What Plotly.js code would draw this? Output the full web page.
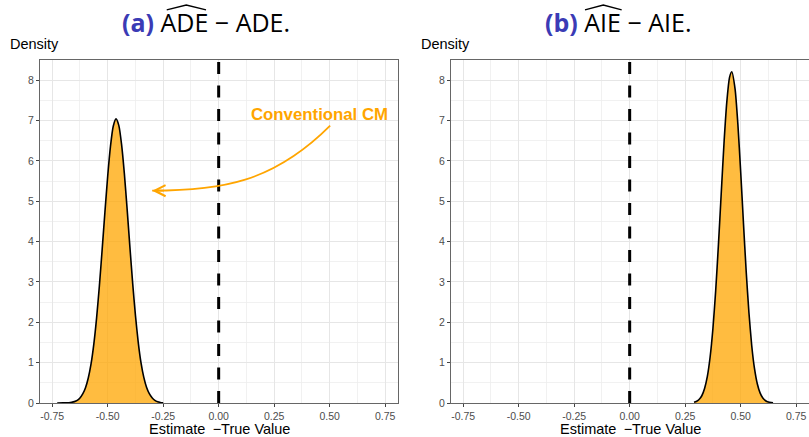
<!DOCTYPE html>
<html>
<head>
<meta charset="utf-8">
<script src="https://cdn.plot.ly/plotly-3.0.1.min.js"></script>
<style>html,body{margin:0;padding:0;background:#fff;}#chart{width:809px;height:437px;}</style>
</head>
<body>
<div id="chart"></div>
<script>
// ---- data ----
const adeX = [-0.7275,-0.70,-0.6875,-0.675,-0.6625,-0.65,-0.6375,-0.625,-0.6125,-0.60,-0.5875,-0.575,-0.5625,-0.55,-0.5375,-0.525,-0.5125,-0.50,-0.4875,-0.475,-0.4625,-0.45,-0.4375,-0.425,-0.4125,-0.40,-0.3875,-0.375,-0.3625,-0.35,-0.3375,-0.325,-0.3125,-0.30,-0.2875,-0.275,-0.2625,-0.25];
const adeY = [0,0.002,0.004,0.008,0.017,0.034,0.066,0.125,0.225,0.38,0.62,0.97,1.46,2.11,2.90,3.80,4.73,5.62,6.36,6.86,7.04,6.88,6.41,5.69,4.81,3.87,2.97,2.17,1.51,1.00,0.64,0.39,0.23,0.13,0.066,0.032,0.014,0.005];
const aieX = [0.29,0.30,0.3125,0.325,0.3375,0.35,0.3625,0.375,0.3875,0.40,0.4125,0.425,0.4375,0.45,0.46,0.475,0.4875,0.50,0.5125,0.525,0.5375,0.55,0.5625,0.575,0.5875,0.60,0.6125,0.625,0.6375,0.646];
const aieY = [0.019,0.039,0.088,0.18,0.36,0.66,1.14,1.84,2.78,3.93,5.19,6.43,7.45,8.07,8.21,7.78,6.91,5.75,4.48,3.26,2.23,1.42,0.85,0.476,0.25,0.122,0.056,0.024,0.01,0.004];
const xTickVals = [-0.75,-0.5,-0.25,0,0.25,0.5,0.75];
const xTickText = ["-0.75","-0.50","-0.25","0.00","0.25","0.50","0.75"];
const yTickVals = [0,1,2,3,4,5,6,7,8];
const trueValue = 0;
const panelTitles = ['<span style="color:#3b3bb5"><b>(a)</b></span> ADE − ADE.', '<span style="color:#3b3bb5"><b>(b)</b></span> AIE − AIE.'];
const xTitle = 'Estimate\u2002−True Value';
const yTitle = 'Density';
const calloutText = "Conventional CM";

const fillC = 'rgba(255,165,0,0.75)';
const orange = '#FFA500';
const traces = [
  {x: adeX, y: adeY, type:'scatter', mode:'lines', fill:'tozeroy', fillcolor:fillC,
   line:{color:'#000', width:1.6, shape:'spline', smoothing:0.6}, xaxis:'x', yaxis:'y', hoverinfo:'skip'},
  {x: aieX, y: aieY, type:'scatter', mode:'lines', fill:'tozeroy', fillcolor:fillC,
   line:{color:'#000', width:1.6, shape:'spline', smoothing:0.6}, xaxis:'x2', yaxis:'y2', hoverinfo:'skip'}
];

const font = 'Liberation Sans, Arial, sans-serif';
function xax(domain, anchor){
  return {domain: domain, anchor: anchor, range:[-0.805,0.808], tickmode:'array', tickvals:xTickVals, ticktext:xTickText,
    showgrid:true, gridcolor:'#E6E6E6', gridwidth:1.1, zeroline:false,
    minor:{dtick:0.25, tick0:-0.625, showgrid:true, gridcolor:'#EDEDED', gridwidth:0.8, ticks:''},
    showline:true, mirror:true, linecolor:'#666', linewidth:1,
    ticks:'outside', ticklen:3, tickcolor:'#444', tickwidth:1,
    tickfont:{family:font, size:10.5, color:'#4D4D4D'},
    fixedrange:true};
}
function yax(anchor){
  return {anchor: anchor, domain:[0,1], range:[0,8.5], tickmode:'array', tickvals:yTickVals,
    showgrid:true, gridcolor:'#E6E6E6', gridwidth:1.1, zeroline:false,
    minor:{dtick:1, tick0:0.5, showgrid:true, gridcolor:'#EDEDED', gridwidth:0.8, ticks:''},
    showline:true, mirror:true, linecolor:'#666', linewidth:1,
    ticks:'outside', ticklen:3, tickcolor:'#444', tickwidth:1,
    tickfont:{family:font, size:10.5, color:'#4D4D4D'}, fixedrange:true};
}

const d1 = [0, 358/769];
const d2 = [411/769, 1];
const layout = {
  width:809, height:437,
  margin:{l:40, r:0, t:60, b:34},
  paper_bgcolor:'#fff', plot_bgcolor:'#fff',
  showlegend:false,
  xaxis: xax(d1,'y'), yaxis: yax('x'),
  xaxis2: xax(d2,'y2'), yaxis2: yax('x2'),
  shapes:[
    {type:'line', xref:'x', yref:'y domain', x0:trueValue, x1:trueValue, y0:0, y1:1, line:{color:'#000', width:3, dash:'12px,11.5px'}},
    {type:'line', xref:'x2', yref:'y2 domain', x0:trueValue, x1:trueValue, y0:0, y1:1, line:{color:'#000', width:3, dash:'12px,11.5px'}},
    // callout curve
    {type:'path', xref:'x', yref:'y', path:'M 0.5023,6.873 C 0.2441,5.452 0.0068,5.261 -0.2995,5.261', line:{color:orange, width:1.8}},
    // wide hats over the title estimators
    {type:'path', xref:'paper', yref:'paper', path:'M 0.1648,1.1458 L 0.1902,1.1603 L 0.2159,1.1458', line:{color:'#000', width:1.3}},
    {type:'path', xref:'paper', yref:'paper', path:'M 0.7087,1.1458 L 0.7325,1.1603 L 0.7564,1.1458', line:{color:'#000', width:1.3}}
  ],
  annotations:[
    {xref:'paper', yref:'paper', x:(206-40)/769, y:1.1108, xanchor:'center', yanchor:'middle', showarrow:false,
     text:panelTitles[0], font:{family:'Open Sans, sans-serif', size:25, color:'#000'}},
    {xref:'paper', yref:'paper', x:(618-40)/769, y:1.1108, xanchor:'center', yanchor:'middle', showarrow:false,
     text:panelTitles[1], font:{family:'Open Sans, sans-serif', size:25, color:'#000'}},
    {xref:'paper', yref:'paper', x:-0.0416, y:1.0466, xanchor:'left', yanchor:'middle', showarrow:false,
     text:yTitle, font:{family:font, size:14.5, color:'#000'}},
    {xref:'paper', yref:'paper', x:(419-40)/769, y:1.0466, xanchor:'left', yanchor:'middle', showarrow:false,
     text:yTitle, font:{family:font, size:14.5, color:'#000'}},
    {xref:'paper', yref:'paper', x:(219-40)/769, y:(403-428.5)/343, xanchor:'center', yanchor:'middle', showarrow:false,
     text:xTitle, font:{family:font, size:14.5, color:'#000'}},
    {xref:'paper', yref:'paper', x:(630-40)/769, y:(403-428.5)/343, xanchor:'center', yanchor:'middle', showarrow:false,
     text:xTitle, font:{family:font, size:14.5, color:'#000'}},
    {xref:'x', yref:'y', x:0.4527, y:7.146, xanchor:'center', yanchor:'middle', showarrow:false,
     text:'<b>'+calloutText+'</b>', font:{family:font, size:16.8, color:orange}},
    {xref:'x', yref:'y', x:-0.2995, y:5.261, axref:'x', ayref:'y', ax:-0.24, ay:5.262, text:'',
     showarrow:true, arrowhead:5, arrowsize:1.2, arrowwidth:1.8, arrowcolor:orange}
  ]
};
Plotly.newPlot('chart', traces, layout, {displayModeBar:false, staticPlot:true});
</script>
</body>
</html>
